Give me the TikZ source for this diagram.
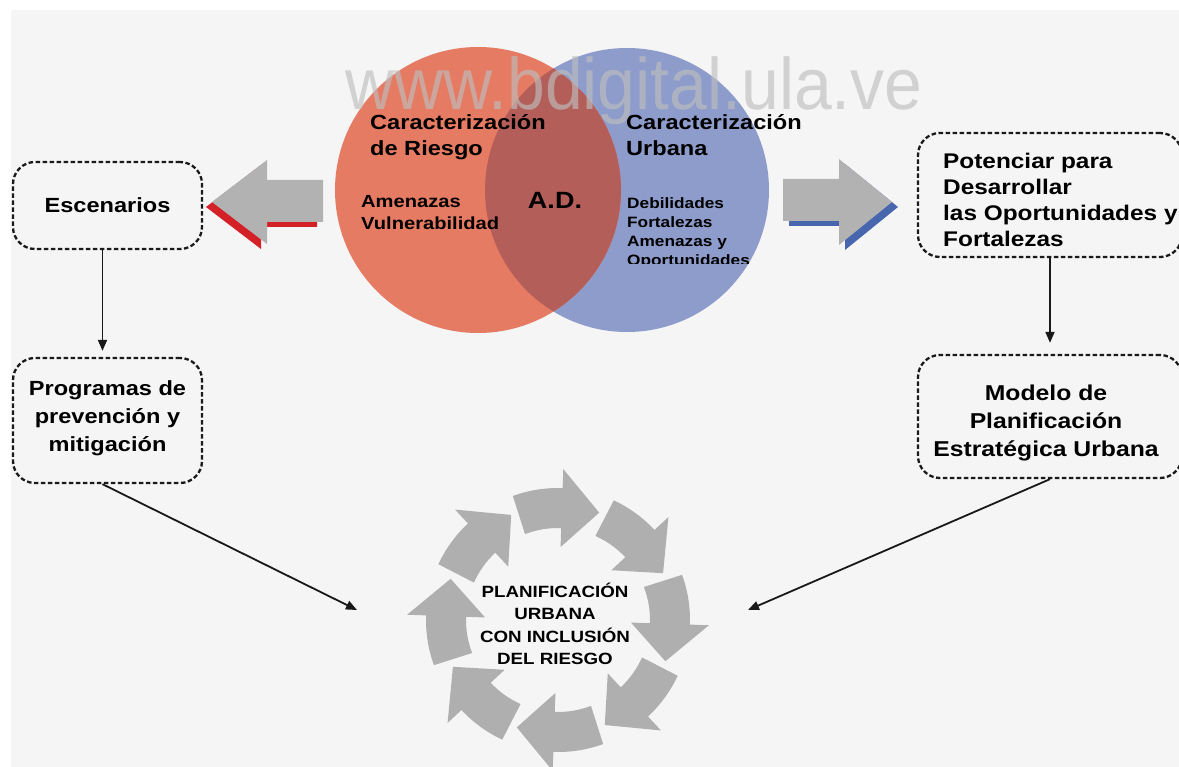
\documentclass[tikz,border=0pt]{standalone}
\usepackage{fontspec}
\usepackage{graphicx}
\setmainfont{Liberation Sans}[FakeStretch=1.15]
\newfontfamily\wmfont{Liberation Sans}
\usetikzlibrary{arrows.meta}
\definecolor{bgc}{HTML}{F5F5F5}
\definecolor{redc}{HTML}{E67B63}
\definecolor{bluec}{HTML}{8E9CCB}
\definecolor{overc}{HTML}{B45E5A}
\definecolor{arrowc}{HTML}{B2B2B2}
\definecolor{ringc}{HTML}{AFAFAF}
\definecolor{redsh}{HTML}{D42027}
\definecolor{bluesh}{HTML}{4766AE}
\definecolor{boxc}{HTML}{1A1A1A}
\definecolor{txtc}{HTML}{000000}
\definecolor{wmc}{HTML}{BEBEBE}
\begin{document}
\begin{tikzpicture}[x=1pt,y=1pt,
  dbox/.style={draw=boxc, line width=2.3pt, dash pattern=on 4.5pt off 2.5pt,
    rounded corners=22pt, inner sep=0pt, align=center, text=txtc,
    font=\bfseries\fontsize{20.5}{27.5}\selectfont},
  btxt/.style={inner sep=0pt, align=center, text=txtc,
    font=\bfseries\fontsize{20.5}{28}\selectfont},
  ptxt/.style={inner sep=0pt, align=left, text=txtc, anchor=west,
    font=\bfseries\fontsize{21.2}{26}\selectfont},
  vtitle/.style={inner sep=0pt, align=left, text=txtc, anchor=west,
    font=\bfseries\fontsize{20.5}{26}\selectfont},
  vsub/.style={inner sep=0pt, align=left, text=txtc, anchor=west,
    font=\bfseries\fontsize{17.5}{22}\selectfont},
  vsmall/.style={inner sep=0pt, align=left, text=txtc, anchor=west,
    font=\bfseries\fontsize{15}{19}\selectfont},
  adtxt/.style={inner sep=0pt, text=txtc, font=\bfseries\fontsize{23.5}{26}\selectfont},
  ctxt/.style={inner sep=0pt, align=center, text=txtc,
    font=\bfseries\fontsize{16.3}{22.3}\selectfont},
  conn/.style={line width=1.8pt, draw=black!90, -{Triangle[length=11pt,width=9pt]}},
  ringarrow/.style={fill=ringc}
]
\useasboundingbox (0,0) rectangle (1179,-767);
\fill[white] (0,0) rectangle (1179,-767);
\fill[bgc] (11,-10) rectangle (1179,-767);

% Venn diagram
\coordinate (cl) at (478,-190);
\coordinate (cr) at (627,-190);
\fill[bluec] (cr) circle[radius=142];
\fill[redc] (cl) circle[radius=143];
\begin{scope}
  \clip (cl) circle[radius=143];
  \fill[overc] (cr) circle[radius=142];
\end{scope}

\node[vtitle] (riesgo) at (370,-137) {Caracterización\\de Riesgo};
\node[vtitle] (urbana) at (626,-135) {Caracterización\\Urbana};
\node[vsub] (amen) at (361,-213) {Amenazas\\Vulnerabilidad};
\node[adtxt] (ad) at (555,-200) {A.D.};
\begin{scope}
  \clip (600,-180) rectangle (780,-264);
  \node[vsmall] (debil) at (627,-233) {Debilidades\\Fortalezas\\Amenazas y\\Oportunidades};
\end{scope}

% block arrows with shadows
\fill[redsh, xshift=-6pt, yshift=-5pt] (212,-202) -- (267,-160) -- (267,-180) -- (323,-180)
  -- (323,-222) -- (267,-222) -- (267,-244) -- cycle;
\fill[arrowc] (212,-202) -- (267,-160) -- (267,-180) -- (323,-180)
  -- (323,-222) -- (267,-222) -- (267,-244) -- cycle;
\fill[bluesh, xshift=6pt, yshift=-5pt] (892,-202) -- (839,-159) -- (839,-179) -- (783,-179)
  -- (783,-221) -- (839,-221) -- (839,-245) -- cycle;
\fill[arrowc] (892,-202) -- (839,-159) -- (839,-179) -- (783,-179)
  -- (783,-221) -- (839,-221) -- (839,-245) -- cycle;

% boxes
\node[dbox, minimum width=189pt, minimum height=87pt] (esc) at (107.5,-205.5) {Escenarios};
\node[dbox, minimum width=189pt, minimum height=125pt] (prog) at (107.5,-420.5) {};
\node[btxt] (progtxt) at (107.5,-418) {Programas de\\prevención y\\mitigación};
\node[dbox, minimum width=264pt, minimum height=124pt] (pot) at (1050,-195) {};
\node[ptxt] (pottxt) at (943,-200) {Potenciar para\\Desarrollar\\las Oportunidades y\\Fortalezas};
\node[dbox, minimum width=264pt, minimum height=123pt] (mod) at (1050,-416.5) {};
\node[btxt, font=\bfseries\fontsize{21.5}{28}\selectfont] (modtxt) at (1046,-423)
  {Modelo de\\Planificación\\Estratégica Urbana};

% ring of arrows
\begin{scope}[shift={(558,-620)}]
  \foreach \r in {0,45,...,315} {
    \fill[ringarrow, rotate=-\r] (110:132) arc[start angle=110, end angle=88, radius=132]
      -- (88:151) -- (69:115) -- (88:73) -- (88:92)
      arc[start angle=88, end angle=111, radius=92] -- cycle;
  }
\end{scope}
\node[ctxt] (plan) at (555,-624) {PLANIFICACIÓN\\URBANA\\CON INCLUSIÓN\\DEL RIESGO};

% connectors
\coordinate (pin) at (357,-610);
\coordinate (min) at (748,-610);
\draw[conn, shorten >=6pt] ([xshift=-5pt]esc.south) -- ([xshift=-5pt]prog.north);
\draw[conn, shorten >=11pt] (pot.south) -- (mod.north);
\draw[conn] ([xshift=-5pt]prog.south) -- (pin);
\draw[conn] (mod.south) -- (min);

% watermark
\node[inner sep=0pt, anchor=base west, text=wmc, opacity=0.65] (wm) at (345,-110)
  {\wmfont\fontsize{73}{73}\selectfont\scalebox{0.93}[1]{www.bdigital.ula.ve}};
\end{tikzpicture}
\end{document}
